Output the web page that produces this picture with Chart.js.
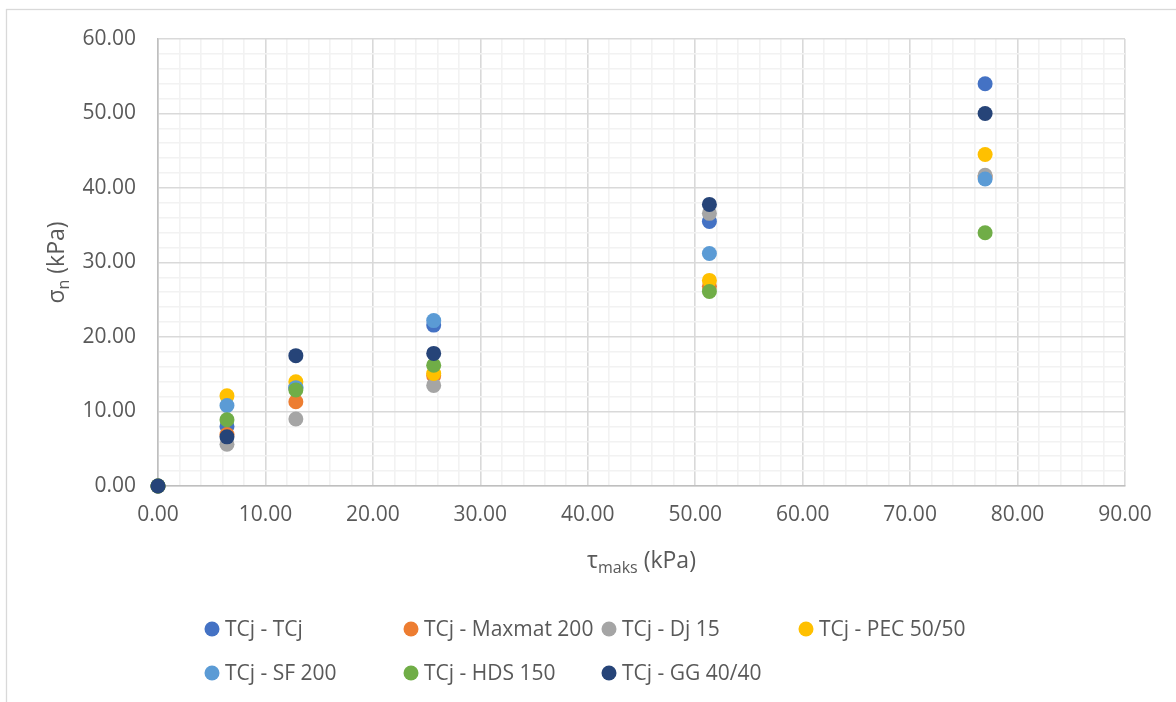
<!DOCTYPE html>
<html>
<head>
<meta charset="utf-8">
<script src="https://cdn.jsdelivr.net/npm/chart.js@4.4.1/dist/chart.umd.min.js"></script>
<style>
  html, body { margin: 0; padding: 0; background: #fff; overflow: hidden; }
  #wrap { position: relative; width: 1176px; height: 702px; }
</style>
</head>
<body>
<div id="wrap"><canvas id="myScatter" width="1176" height="702"></canvas></div>
<script>
// tau_maks values (kPa), shared by all series
const tauValues = [0, 6.42, 12.83, 25.66, 51.32, 76.98];

// sigma_n values (kPa) per series
const tcjTcj   = [0, 8.0, 13.2, 21.6, 35.5, 54.0];
const maxmat   = [0, 6.9, 11.3, 14.8, 26.8, 41.5];
const dj15     = [0, 5.6, 9.0, 13.5, 36.6, 41.7];
const pec5050  = [0, 12.1, 14.0, 15.1, 27.6, 44.5];
const sf200    = [0, 10.8, 13.2, 22.2, 31.2, 41.2];
const hds150   = [0, 8.9, 12.9, 16.2, 26.1, 34.0];
const gg4040   = [0, 6.6, 17.5, 17.8, 37.8, 50.0];

const seriesNames = ['TCj - TCj', 'TCj - Maxmat 200', 'TCj - Dj 15', 'TCj - PEC 50/50',
                     'TCj - SF 200', 'TCj - HDS 150', 'TCj - GG 40/40'];
const seriesValues = [tcjTcj, maxmat, dj15, pec5050, sf200, hds150, gg4040];
const seriesColors = ['#4472C4', '#ED7D31', '#A5A5A5', '#FFC000', '#5B9BD5', '#70AD47', '#264478'];

const FONT = '"Open Sans", "Liberation Sans", sans-serif';
const TEXT_COLOR = '#595959';

const datasets = seriesNames.map(function(name, i) {
    return {
        label: name,
        data: tauValues.map(function(x, j) { return { x: x, y: seriesValues[i][j] }; }),
        backgroundColor: seriesColors[i],
        borderColor: seriesColors[i],
        pointRadius: 7.5,
        pointHoverRadius: 7.5,
        borderWidth: 0,
        clip: false,
        order: seriesNames.length - i  // later series drawn on top, like Excel
    };
});

// frame, axis titles with subscripts, and grid-style legend
const decorations = {
    id: 'decorations',
    beforeDraw: function(chart) {
        const c = chart.ctx;
        c.save();
        c.fillStyle = '#fff';
        c.fillRect(0, 0, chart.width, chart.height);
        c.strokeStyle = '#D9D9D9';
        c.lineWidth = 1.3;
        c.strokeRect(6.5, 9.5, 1300, 900);
        c.restore();
    },
    afterDraw: function(chart) {
        const c = chart.ctx;
        const area = chart.chartArea;
        c.save();
        c.fillStyle = TEXT_COLOR;
        c.textBaseline = 'alphabetic';

        function drawSub(main, sub, rest, cx, cy) {
            c.font = '23px ' + FONT;
            const w1 = c.measureText(main).width;
            const w3 = c.measureText(rest).width;
            c.font = '16px ' + FONT;
            const w2 = c.measureText(sub).width;
            let x = cx - (w1 + w2 + w3) / 2;
            c.textAlign = 'left';
            c.font = '23px ' + FONT;
            c.fillText(main, x, cy);
            x += w1;
            c.font = '16px ' + FONT;
            c.fillText(sub, x, cy + 5);
            x += w2;
            c.font = '23px ' + FONT;
            c.fillText(rest, x, cy);
        }

        // x title
        drawSub('\u03C4', 'maks', ' (kPa)', (area.left + area.right) / 2, 568);
        // y title
        c.save();
        c.translate(64, (area.top + area.bottom) / 2);
        c.rotate(-Math.PI / 2);
        drawSub('\u03C3', 'n', ' (kPa)', 0, 0);
        c.restore();

        // legend
        const colX = [212, 411, 609, 806];
        const rowY = [629, 673];
        c.font = '21px ' + FONT;
        c.textAlign = 'left';
        c.textBaseline = 'middle';
        chart.data.datasets.forEach(function(ds, i) {
            const cx = colX[i % 4];
            const cy = rowY[Math.floor(i / 4)];
            c.fillStyle = ds.backgroundColor;
            c.beginPath();
            c.arc(cx, cy, 7.5, 0, Math.PI * 2);
            c.fill();
            c.fillStyle = TEXT_COLOR;
            c.fillText(ds.label, cx + 13, cy + 1);
        });
        c.restore();
    }
};

function gridColor(ctx) {
    if (!ctx.tick) return '#F2F2F2';
    return Math.abs(ctx.tick.value % 10) < 1e-6 ? '#D9D9D9' : '#F2F2F2';
}
function majorLabel(value) {
    return Math.abs(value % 10) < 1e-6 ? value.toFixed(2) : '';
}

const ctx = document.getElementById('myScatter').getContext('2d');
const myScatter = new Chart(ctx, {
    type: 'scatter',
    data: { datasets: datasets },
    options: {
        responsive: false,
        animation: false,
        layout: { padding: { top: 39, right: 51, bottom: 0, left: 0 } },
        plugins: {
            legend: { display: false },
            tooltip: { enabled: false }
        },
        scales: {
            x: {
                type: 'linear',
                min: 0,
                max: 90,
                afterFit: function(scale) { scale.height = 216; },
                ticks: {
                    stepSize: 2,
                    autoSkip: false,
                    maxRotation: 0,
                    padding: 16,
                    color: TEXT_COLOR,
                    font: { family: FONT, size: 21 },
                    callback: majorLabel
                },
                grid: { color: gridColor, lineWidth: 1.6, drawTicks: false },
                border: { color: '#BFBFBF', width: 1.6 }
            },
            y: {
                type: 'linear',
                min: 0,
                max: 60,
                afterFit: function(scale) { scale.width = 158; },
                ticks: {
                    stepSize: 2,
                    autoSkip: false,
                    padding: 22,
                    color: TEXT_COLOR,
                    font: { family: FONT, size: 21 },
                    callback: majorLabel
                },
                grid: { color: gridColor, lineWidth: 1.6, drawTicks: false },
                border: { color: '#BFBFBF', width: 1.6 }
            }
        }
    },
    plugins: [decorations]
});
</script>
</body>
</html>
